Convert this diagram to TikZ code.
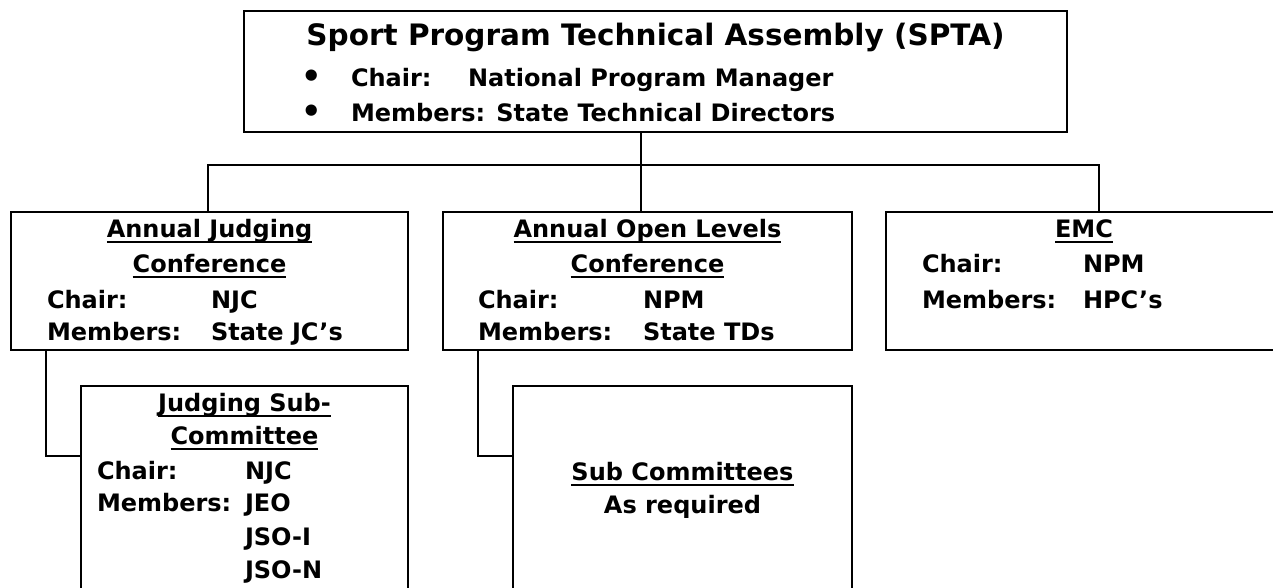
\documentclass[tikz,border=0pt]{standalone}
\usepackage{fontspec}
\setmainfont{DejaVu Sans}
\newsavebox\ulbox
\newcommand\ulin[1]{\sbox\ulbox{#1}\rlap{\rule[-5.5pt]{\wd\ulbox}{1.7pt}}\usebox\ulbox}
\begin{document}
\begin{tikzpicture}[x=1pt,y=-1pt,
  box/.style={draw, line width=1.7pt, rectangle, anchor=north west, inner sep=0pt, outer sep=0pt},
  conn/.style={line width=1.7pt, line join=miter},
  txt/.style={inner sep=0pt, outer sep=0pt, font=\bfseries\fontsize{24}{28}\selectfont},
  lt/.style={txt, anchor=base west},
  ct/.style={txt, anchor=base},
  ttl/.style={inner sep=0pt, outer sep=0pt, anchor=base, font=\bfseries\fontsize{29.5}{33}\selectfont},
  bul/.style={inner sep=0pt, outer sep=0pt, anchor=center, font=\bfseries\fontsize{32}{32}\selectfont}]
\useasboundingbox (0,0) rectangle (1273,587);
\clip (0,0) rectangle (1273,587);
\fill[white] (0,0) rectangle (1273,587);
% boxes
\node[box, minimum width=823pt, minimum height=121pt] (top) at (244,11) {};
\node[box, minimum width=397pt, minimum height=138pt] (ajc) at (11,212) {};
\node[box, minimum width=409pt, minimum height=138pt] (aol) at (443,212) {};
\node[box, minimum width=396pt, minimum height=138pt] (emc) at (886,212) {};
\node[box, minimum width=327pt, minimum height=230pt] (jsc) at (81,386) {};
\node[box, minimum width=339pt, minimum height=230pt] (sc) at (513,386) {};
% connectors
\coordinate (busL) at (208,165);
\coordinate (busR) at (1099,165);
\coordinate (busM) at (641,165);
\coordinate (jL) at (46,456);
\coordinate (oL) at (478,456);
\draw[conn] (ajc.north -| busL) -- (busL) -- (busR) -- (emc.north -| busR);
\draw[conn] (top.south -| busM) -- (aol.north -| busM);
\draw[conn] (ajc.south -| jL) -- (jL) -- (jsc.west |- jL);
\draw[conn] (aol.south -| oL) -- (oL) -- (sc.west |- oL);
% top box text
\node[ttl] (ttitle) at (655.5,45) {Sport Program Technical Assembly (SPTA)};
\node[bul] (b1) at (312,79) {•};
\node[bul] (b2) at (312,114) {•};
\node[lt] (tc) at (351,86) {Chair:};
\node[lt] (tcv) at (468,86) {National Program Manager};
\node[lt] (tm) at (351,121) {Members: State Technical Directors};
% annual judging conference
\node[ct] (a1) at (209.5,237) {\ulin{Annual Judging}};
\node[ct] (a2) at (209.5,272) {\ulin{Conference}};
\node[lt] (a3) at (47,308) {Chair:};
\node[lt] (a3v) at (211,308) {NJC};
\node[lt] (a4) at (47,340) {Members:};
\node[lt] (a4v) at (211,340) {State JC’s};
% annual open levels conference
\node[ct] (o1) at (647.5,237) {\ulin{Annual Open Levels}};
\node[ct] (o2) at (647.5,272) {\ulin{Conference}};
\node[lt] (o3) at (478,308) {Chair:};
\node[lt] (o3v) at (643,308) {NPM};
\node[lt] (o4) at (478,340) {Members:};
\node[lt] (o4v) at (643,340) {State TDs};
% EMC
\node[ct] (e1) at (1084,237) {\ulin{EMC}};
\node[lt] (e2) at (922,272) {Chair:};
\node[lt] (e2v) at (1083,272) {NPM};
\node[lt] (e3) at (922,308) {Members:};
\node[lt] (e3v) at (1083,308) {HPC’s};
% judging sub-committee
\node[ct] (j1) at (244.5,411) {\ulin{Judging Sub-}};
\node[ct] (j2) at (244.5,444) {\ulin{Committee}};
\node[lt] (j3) at (97,479) {Chair:};
\node[lt] (j3v) at (245,479) {NJC};
\node[lt] (j4) at (97,511) {Members:};
\node[lt] (j4v) at (245,511) {JEO};
\node[lt] (j5v) at (245,545) {JSO-I};
\node[lt] (j6v) at (245,578) {JSO-N};
% sub committees
\node[ct] (s1) at (682.5,480) {\ulin{Sub Committees}};
\node[ct] (s2) at (682.5,513) {As required};
\end{tikzpicture}
\end{document}
